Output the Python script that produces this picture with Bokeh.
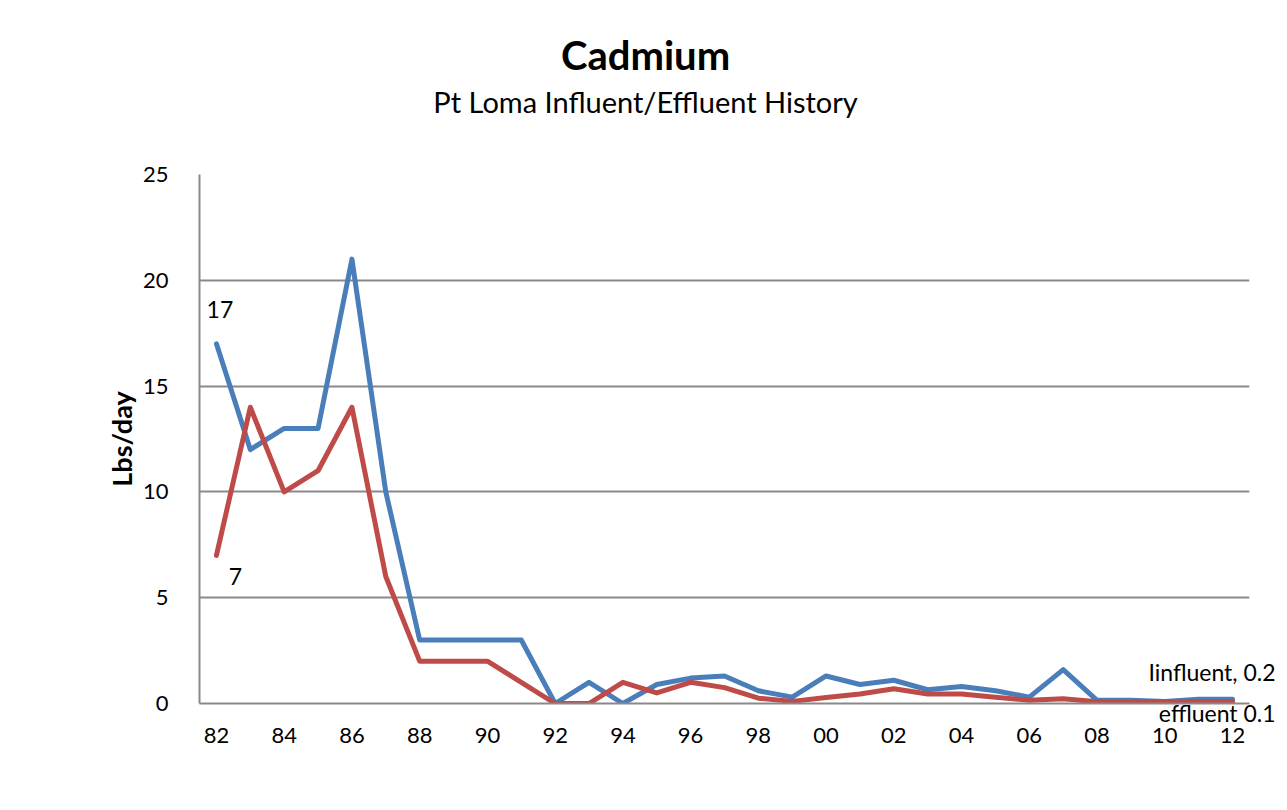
from bokeh.plotting import figure
from bokeh.models import Range1d, Label, SingleIntervalTicker, FixedTicker
from bokeh.embed import file_html
from bokeh.resources import INLINE

years = ["82", "83", "84", "85", "86", "87", "88", "89", "90", "91", "92", "93", "94", "95",
         "96", "97", "98", "99", "00", "01", "02", "03", "04", "05", "06", "07", "08", "09",
         "10", "11", "12"]
influent = [17, 12, 13, 13, 21, 10, 3, 3, 3, 3, 0, 1, 0, 0.9, 1.2, 1.3, 0.6, 0.3, 1.3, 0.9,
            1.1, 0.65, 0.8, 0.6, 0.3, 1.6, 0.15, 0.15, 0.1, 0.2, 0.2]
effluent = [7, 14, 10, 11, 14, 6, 2, 2, 2, 1, 0, 0, 1, 0.5, 1.0, 0.75, 0.25, 0.1, 0.28, 0.45,
            0.7, 0.45, 0.45, 0.3, 0.15, 0.22, 0.08, 0.08, 0.08, 0.1, 0.1]

FONT = "Lato"
n = len(years)
xs = list(range(n))

p = figure(x_range=Range1d(-0.5, n - 0.5),
           y_range=Range1d(0, 25),
           width=1280, height=800, output_backend="svg", toolbar_location=None,
           min_border_left=199, min_border_right=31, min_border_top=174, min_border_bottom=97)
p.outline_line_color = None
p.background_fill_color = "white"
p.border_fill_color = "white"

p.line(xs, influent, line_color="#4a7ebb", line_width=5, line_join="round", line_cap="round")
p.line(xs, effluent, line_color="#be4b48", line_width=5, line_join="round", line_cap="round")

# axes
p.xaxis.ticker = FixedTicker(ticks=xs[::2])
p.xaxis.major_label_overrides = {i: years[i] for i in xs[::2]}
p.xaxis.major_tick_line_color = None
p.xaxis.major_tick_out = 0
p.xaxis.major_tick_in = 0
p.xaxis.minor_tick_line_color = None
p.xaxis.axis_line_color = "#898989"
p.xaxis.axis_line_width = 2
p.xaxis.major_label_standoff = 24
p.xaxis.major_label_text_font = FONT
p.xaxis.major_label_text_font_size = "22px"
p.xaxis.major_label_text_color = "black"
p.xgrid.grid_line_color = None

p.yaxis.ticker = SingleIntervalTicker(interval=5)
p.yaxis.major_tick_line_color = None
p.yaxis.major_tick_out = 0
p.yaxis.major_tick_in = 0
p.yaxis.minor_tick_line_color = None
p.yaxis.axis_line_color = "#898989"
p.yaxis.axis_line_width = 2
p.yaxis.major_label_standoff = 27
p.yaxis.major_label_text_font = FONT
p.yaxis.major_label_text_font_size = "22px"
p.yaxis.major_label_text_color = "black"
p.yaxis.axis_label = "Lbs/day"
p.yaxis.axis_label_text_font = FONT
p.yaxis.axis_label_text_font_style = "bold"
p.yaxis.axis_label_text_font_size = "27px"
p.yaxis.axis_label_text_color = "black"
p.yaxis.axis_label_standoff = 2
p.ygrid.grid_line_color = "#898989"
p.ygrid.grid_line_width = 2

# labels at the right end and titles, placed in side panels (not clipped)
p.add_layout(Label(x=xs[-1], y=influent[-1], text="Iinfluent, 0.2", x_offset=43, y_offset=27,
                   text_font=FONT, text_font_size="23px", text_align="right",
                   text_baseline="middle", text_color="black"), "above")
p.add_layout(Label(x=12.67, y=28.45, text="Pt Loma Influent/Effluent History",
                   text_font=FONT, text_font_size="29px",
                   text_align="center", text_baseline="middle", text_color="black"), "above")
p.add_layout(Label(x=12.67, y=30.65, text="Cadmium",
                   text_font=FONT, text_font_style="bold", text_font_size="40px",
                   text_align="center", text_baseline="middle", text_color="black"), "above")
p.add_layout(Label(x=xs[-1], y=effluent[-1], text="effluent 0.1", x_offset=43, y_offset=-12,
                   text_font=FONT, text_font_size="23px", text_align="right",
                   text_baseline="middle", text_color="black"), "below")

# data labels at the start
p.add_layout(Label(x=xs[0], y=influent[0], text="17", x_offset=3.5, y_offset=34.5,
                   text_font=FONT, text_font_size="23px", text_align="center",
                   text_baseline="middle", text_color="black"))
p.add_layout(Label(x=xs[0], y=effluent[0], text="7", x_offset=19, y_offset=-21.5,
                   text_font=FONT, text_font_size="23px", text_align="center",
                   text_baseline="middle", text_color="black"))

open("out.html", "w").write(file_html(p, INLINE))
